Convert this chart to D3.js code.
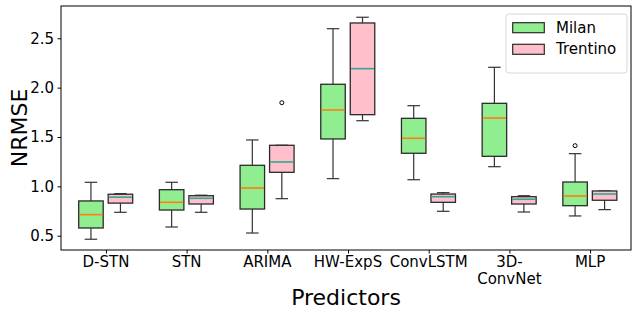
<!DOCTYPE html>
<html>
<head>
<meta charset="utf-8">
<script src="https://cdn.jsdelivr.net/npm/d3@7"></script>
<style>
  body { margin: 0; background: white; }
  svg { display: block; font-family: "DejaVu Sans", sans-serif; }
</style>
</head>
<body>
<svg id="chart" width="632" height="309"></svg>
<script>
// predictors on the x axis (multi-line labels split on \n)
const predictors = ['D-STN', 'STN', 'ARIMA', 'HW-ExpS', 'ConvLSTM', '3D-\nConvNet', 'MLP']

// box stats per predictor: [whisker low, q1, median, q3, whisker high]
const milanStats = [
    [0.464, 0.578, 0.713, 0.852, 1.041],
    [0.588, 0.760, 0.838, 0.966, 1.041],
    [0.527, 0.770, 0.983, 1.213, 1.470],
    [1.078, 1.480, 1.774, 2.034, 2.597],
    [1.067, 1.335, 1.487, 1.689, 1.817],
    [1.199, 1.304, 1.692, 1.841, 2.206],
    [0.700, 0.804, 0.902, 1.044, 1.331]
]
const trentinoStats = [
    [0.737, 0.830, 0.890, 0.920, 0.926],
    [0.737, 0.821, 0.879, 0.905, 0.910],
    [0.875, 1.142, 1.247, 1.416, 1.416],
    [1.665, 1.726, 2.192, 2.655, 2.713],
    [0.747, 0.838, 0.895, 0.922, 0.936],
    [0.740, 0.821, 0.869, 0.895, 0.905],
    [0.764, 0.859, 0.922, 0.953, 0.953]
]
const milanOutliers = [[], [], [], [], [], [], [1.412]]
const trentinoOutliers = [[], [], [1.847], [], [], [], []]

const yTicks = [0.5, 1.0, 1.5, 2.0, 2.5]

const series = [
    { name: 'Milan', stats: milanStats, outliers: milanOutliers, fill: '#90ee90', median: '#ff7f0e', offset: -15 },
    { name: 'Trentino', stats: trentinoStats, outliers: trentinoOutliers, fill: '#ffc0cb', median: '#2ea995', offset: 14.5 }
]

const margin = { top: 6, right: 1, bottom: 59, left: 61 }
const width = 632, height = 309
const svg = d3.select('#chart')

const x = d3.scaleLinear().domain([-0.557, 6.507]).range([margin.left, width - margin.right])
const y = d3.scaleLinear().domain([0.355, 2.827]).range([height - margin.bottom, margin.top])
const boxW = 24.5, capW = 12.5

// boxes
for (const s of series) {
    const g = svg.append('g').attr('class', 'series-' + s.name)
    const items = g.selectAll('g').data(s.stats).join('g')
        .attr('transform', (d, i) => `translate(${x(i) + s.offset},0)`)

    // whiskers
    items.append('line').attr('x1', 0).attr('x2', 0)
        .attr('y1', d => y(d[0])).attr('y2', d => y(d[1]))
        .attr('stroke', '#333').attr('stroke-width', 1.2)
    items.append('line').attr('x1', 0).attr('x2', 0)
        .attr('y1', d => y(d[3])).attr('y2', d => y(d[4]))
        .attr('stroke', '#333').attr('stroke-width', 1.2)
    // caps
    items.append('line').attr('x1', -capW / 2).attr('x2', capW / 2)
        .attr('y1', d => y(d[0])).attr('y2', d => y(d[0]))
        .attr('stroke', '#333').attr('stroke-width', 1.2)
    items.append('line').attr('x1', -capW / 2).attr('x2', capW / 2)
        .attr('y1', d => y(d[4])).attr('y2', d => y(d[4]))
        .attr('stroke', '#333').attr('stroke-width', 1.2)
    // box
    items.append('rect')
        .attr('x', -boxW / 2).attr('width', boxW)
        .attr('y', d => y(d[3])).attr('height', d => y(d[1]) - y(d[3]))
        .attr('fill', s.fill).attr('stroke', '#2b2b2b').attr('stroke-width', 1.3)
    // median
    items.append('line').attr('x1', -boxW / 2 + 0.6).attr('x2', boxW / 2 - 0.6)
        .attr('y1', d => y(d[2])).attr('y2', d => y(d[2]))
        .attr('stroke', s.median).attr('stroke-width', 1.6)
    // fliers
    items.each(function (d, i) {
        d3.select(this).selectAll('circle').data(s.outliers[i]).join('circle')
            .attr('cx', 0).attr('cy', v => y(v)).attr('r', 2)
            .attr('fill', 'none').attr('stroke', 'black').attr('stroke-width', 1)
    })
}

// frame
svg.append('rect')
    .attr('x', margin.left).attr('y', margin.top)
    .attr('width', width - margin.right - margin.left)
    .attr('height', height - margin.bottom - margin.top)
    .attr('fill', 'none').attr('stroke', 'black').attr('stroke-width', 1)

// y axis
const yAxis = svg.append('g')
    .attr('transform', `translate(${margin.left},0)`)
    .call(d3.axisLeft(y).tickValues(yTicks).tickFormat(d3.format('.1f')).tickSize(3.5).tickPadding(3.5))
yAxis.select('.domain').remove()
yAxis.selectAll('text').attr('font-size', 15).attr('font-family', 'DejaVu Sans').attr('fill', 'black')

// x axis
const xAxis = svg.append('g')
    .attr('transform', `translate(0,${height - margin.bottom})`)
    .call(d3.axisBottom(x).tickValues(d3.range(predictors.length)).tickFormat('').tickSize(3.5))
xAxis.select('.domain').remove()

svg.append('g').selectAll('text').data(predictors).join('text')
    .attr('x', (d, i) => x(i))
    .attr('y', 267)
    .attr('text-anchor', 'middle')
    .attr('font-size', 15)
    .selectAll('tspan').data(d => d.split('\n')).join('tspan')
    .attr('x', function () { return d3.select(this.parentNode).attr('x') })
    .attr('dy', (d, i) => i ? 16.5 : 0)
    .text(d => d)

// axis titles
svg.append('text')
    .attr('x', (margin.left + width - margin.right) / 2)
    .attr('y', 305)
    .attr('text-anchor', 'middle')
    .attr('font-size', 22)
    .text('Predictors')

svg.append('text')
    .attr('transform', `translate(26.5,${(margin.top + height - margin.bottom) / 2}) rotate(-90)`)
    .attr('text-anchor', 'middle')
    .attr('font-size', 22)
    .text('NRMSE')

// legend
const legend = svg.append('g').attr('transform', 'translate(506,14)')
legend.append('rect')
    .attr('width', 121).attr('height', 59).attr('rx', 3)
    .attr('fill', 'white').attr('fill-opacity', 0.8)
    .attr('stroke', '#d8d8d8').attr('stroke-width', 1)
const li = legend.selectAll('g.item').data(series).join('g')
    .attr('class', 'item')
    .attr('transform', (d, i) => `translate(0,${8.7 + i * 21.6})`)
li.append('rect')
    .attr('x', 6.7).attr('width', 31.6).attr('height', 10)
    .attr('fill', d => d.fill).attr('stroke', '#2b2b2b').attr('stroke-width', 1.2)
li.append('text')
    .attr('x', 50).attr('y', 10)
    .attr('font-size', 15)
    .text(d => d.name)
</script>
</body>
</html>
